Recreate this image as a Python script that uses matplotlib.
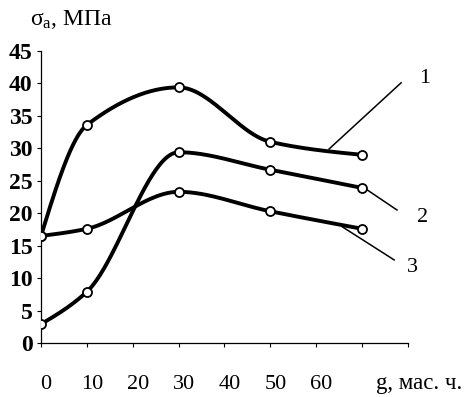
import numpy as np
import matplotlib
matplotlib.use('Agg')
import matplotlib.pyplot as plt
import matplotlib.transforms as mtransforms

plt.rcParams['font.family'] = ['Liberation Serif', 'DejaVu Serif']
plt.rcParams['mathtext.fontset'] = 'custom'
plt.rcParams['mathtext.rm'] = 'Liberation Serif'
plt.rcParams['mathtext.it'] = 'Liberation Serif'

# g, mass parts
g = [0, 10, 30, 50, 70]
sigma_1 = [16.5, 33.6, 39.4, 31.0, 29.0]
sigma_2 = [2.9, 7.9, 29.4, 26.7, 23.9]
sigma_3 = [16.5, 17.6, 23.3, 20.3, 17.6]
curve_names = ['1', '2', '3']
xticks = [0, 10, 20, 30, 40, 50, 60, 70, 80]
xtick_labels = ['0', '10', '20', '30', '40', '50', '60', '', '']
yticks = [0, 5, 10, 15, 20, 25, 30, 35, 40, 45]


def smooth(x, y, n=200):
    # monotone cubic (Fritsch-Carlson) through the points, only for drawing
    x = np.asarray(x, float)
    y = np.asarray(y, float)
    h = np.diff(x)
    d = np.diff(y) / h
    m = np.zeros_like(y)
    for i in range(1, len(x) - 1):
        if d[i - 1] * d[i] > 0:
            w1 = 2 * h[i] + h[i - 1]
            w2 = h[i] + 2 * h[i - 1]
            m[i] = (w1 + w2) / (w1 / d[i - 1] + w2 / d[i])
    m[0] = d[0] * 1.5 - m[1] * 0.5
    m[-1] = d[-1] * 1.5 - m[-2] * 0.5
    xs, ys = [], []
    for i in range(len(x) - 1):
        t = np.linspace(0, 1, n // len(h))
        h00 = 2 * t**3 - 3 * t**2 + 1
        h10 = t**3 - 2 * t**2 + t
        h01 = -2 * t**3 + 3 * t**2
        h11 = t**3 - t**2
        xs.append(x[i] + t * h[i])
        ys.append(h00 * y[i] + h10 * h[i] * m[i] + h01 * y[i + 1] + h11 * h[i] * m[i + 1])
    return np.concatenate(xs), np.concatenate(ys)


fig = plt.figure(figsize=(4.69, 3.97), dpi=100)
ax = fig.add_axes([0.0874, 0.136, 0.7825, 0.7355])

for s in (sigma_1, sigma_2, sigma_3):
    xs, ys = smooth(g, s)
    ax.plot(xs, ys, color='black', lw=2.8, solid_capstyle='round', zorder=2)
    ax.plot(g, s, 'o', ms=6.5, mfc='white', mec='black', mew=1.3, zorder=3)

# leader lines and curve numbers
leaders = [((62.8, 29.9), (78.5, 40.1)), ((71.1, 23.6), (77.6, 20.5)), ((65.7, 17.9), (77.0, 12.8))]
label_pos = [(82.4, 40.8), (82.0, 19.4), (79.8, 11.6)]
for name, (p0, p1), pos in zip(curve_names, leaders, label_pos):
    ax.plot([p0[0], p1[0]], [p0[1], p1[1]], color='black', lw=1.1, clip_on=False)
    ax.text(pos[0], pos[1], name, fontsize=16, ha='left', va='center', clip_on=False)

ax.set_xlim(0, 80)
ax.set_ylim(0, 45)
ax.spines['top'].set_visible(False)
ax.spines['right'].set_visible(False)
ax.spines['left'].set_linewidth(0.9)
ax.spines['bottom'].set_linewidth(0.9)
ax.set_xticks(xticks)
ax.set_xticklabels(xtick_labels, fontsize=16)
ax.set_yticks(yticks)
ax.set_yticklabels([str(v) for v in yticks], fontsize=17)
ax.tick_params(axis='both', direction='out', length=3, width=0.8)
ax.tick_params(axis='x', pad=20)
ax.tick_params(axis='y', pad=3)
offset = mtransforms.ScaledTranslation(5 / 100, 0, fig.dpi_scale_trans)
for lab in ax.get_xticklabels():
    lab.set_transform(lab.get_transform() + offset)
for lab in ax.get_yticklabels():
    lab.set_fontweight('bold')

ax.text(73, -6.2, 'g, мас. ч.', fontsize=16.5, ha='left', va='center', clip_on=False)
fig.text(0.064, 0.95, r'$\sigma_\mathrm{a}$, МПа', fontsize=17, ha='left', va='center')

fig.savefig('out.png', dpi=100)
